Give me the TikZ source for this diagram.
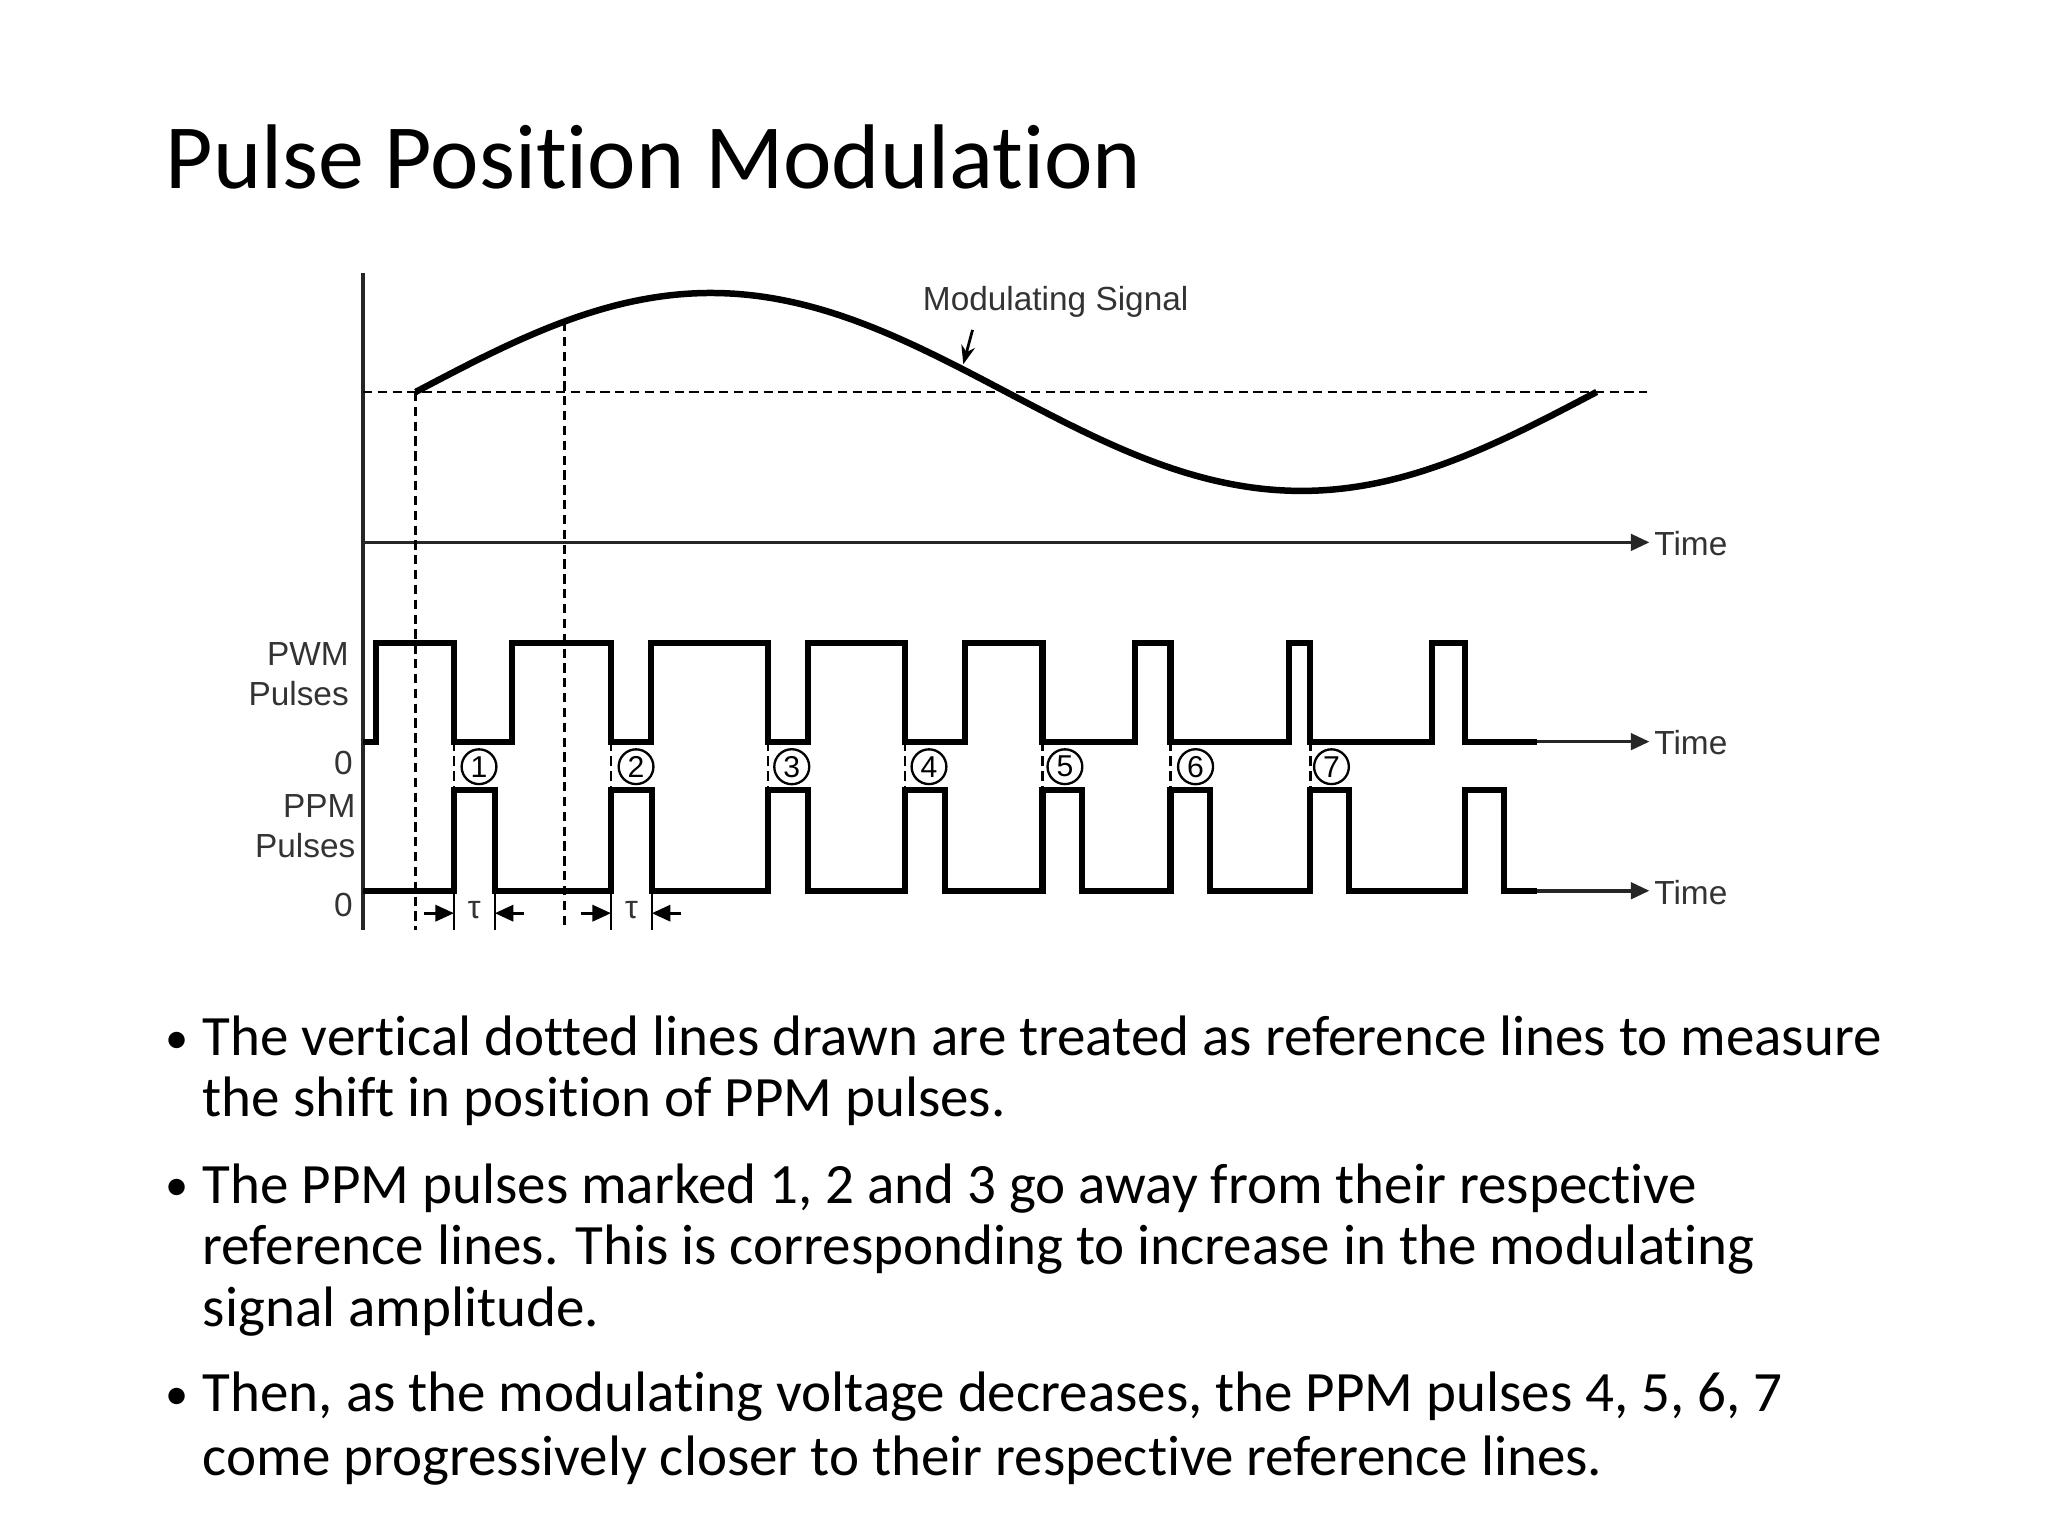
\documentclass[tikz,border=0pt]{standalone}
\usepackage{fontspec}
\setmainfont{Carlito}[Ligatures={NoCommon}]
\newfontfamily\diag{Liberation Sans}
\usetikzlibrary{arrows.meta}
\begin{document}
\begin{tikzpicture}[x=0.1mm,y=-0.1mm,
  sig/.style={line width=1.3pt,line join=miter},
  ax/.style={line width=0.8pt,black!85},
  refl/.style={line width=0.6pt,dash pattern=on 2pt off 1.2pt},
  lab/.style={font=\diag\fontsize{7.2}{8.6}\selectfont,text=black!80,inner sep=0pt},
  circ/.style={circle,draw,line width=0.5pt,inner sep=0.6pt,font=\diag\fontsize{6.5}{7}\selectfont,minimum size=7.5pt},
  tip/.style={-{Triangle[length=4pt,width=3.5pt]}},
  bul/.style={font=\fontsize{12.3}{14}\selectfont,anchor=base west,inner sep=0pt}]
\useasboundingbox (0,0) rectangle (1552,1164);
\node[anchor=base west,inner sep=0pt,font=\fontsize{19.8}{24}\selectfont] (title) at (125,143) {Pulse Position Modulation};
% axes
\coordinate (ytop) at (275,207); \coordinate (ybot) at (275,705);
\draw[ax] (ytop) -- (ybot);
\coordinate (t1s) at (275,411); \coordinate (t1e) at (1250,411);
\draw[ax,tip] (t1s) -- (t1e);
\node[lab,anchor=west] (time1) at (1253,412) {Time};
% modulating signal
\coordinate (h0) at (275,297); \coordinate (h1) at (1248,297);
\draw[refl,line width=0.5pt] (h0) -- (h1);
\draw[sig,line width=1.4pt] plot[domain=315:1210,samples=90,smooth] (\x,{297-75*sin((\x-315)/447.5*180)});
\node[lab] (msig) at (800,229) {Modulating Signal};
\coordinate (ma) at (737,250); \coordinate (mb) at (730,276);
\draw[line width=0.6pt,-{Stealth[length=4pt,width=3pt]}] (ma) -- (mb);
% reference lines
\coordinate (r1a) at (315,297); \coordinate (r1b) at (315,705);
\coordinate (r2a) at (428,244); \coordinate (r2b) at (428,705);
\draw[refl] (r1a) -- (r1b);
\draw[refl] (r2a) -- (r2b);
% PWM
\draw[sig] (275,562) -- (285,562) -- (285,487) -- (344,487) -- (344,562)
 -- (388,562) -- (388,487) -- (463,487) -- (463,562)
 -- (493,562) -- (493,487) -- (582,487) -- (582,562)
 -- (612,562) -- (612,487) -- (686,487) -- (686,562)
 -- (731,562) -- (731,487) -- (790,487) -- (790,562)
 -- (860,562) -- (860,487) -- (887,487) -- (887,562)
 -- (977,562) -- (977,487) -- (993,487) -- (993,562)
 -- (1085,562) -- (1085,487) -- (1110,487) -- (1110,562) -- (1165,562);
\coordinate (t2s) at (1165,562); \coordinate (t2e) at (1250,562);
\draw[ax,tip] (t2s) -- (t2e);
\node[lab,anchor=west] (time2) at (1253,563) {Time};
% PPM
\draw[sig] (275,675) -- (344,675) -- (344,599) -- (375,599) -- (375,675)
 -- (463,675) -- (463,599) -- (494,599) -- (494,675)
 -- (582,675) -- (582,599) -- (612,599) -- (612,675)
 -- (686,675) -- (686,599) -- (716,599) -- (716,675)
 -- (790,675) -- (790,599) -- (820,599) -- (820,675)
 -- (887,675) -- (887,599) -- (917,599) -- (917,675)
 -- (993,675) -- (993,599) -- (1022,599) -- (1022,675)
 -- (1110,675) -- (1110,599) -- (1140,599) -- (1140,675) -- (1165,675);
\coordinate (t3s) at (1165,675); \coordinate (t3e) at (1250,675);
\draw[ax,tip] (t3s) -- (t3e);
\node[lab,anchor=west] (time3) at (1253,676) {Time};
% numbered markers
\foreach \n/\xs/\xc in {1/344/363,2/463/482,3/582/600,4/686/704,5/790/807,6/887/906,7/993/1009}{
  \coordinate (da\n) at (\xs,562); \coordinate (db\n) at (\xs,599);
  \draw[refl,line width=0.5pt] (da\n) -- (db\n);
  \node[circ] (c\n) at (\xc,581) {\n};
}
% labels
\node[lab,align=right,anchor=east] (pwm) at (265,511) {PWM\\Pulses};
\node[lab,anchor=east] (z1) at (268,578) {0};
\node[lab,align=right,anchor=east] (ppm) at (270,626) {PPM\\Pulses};
\node[lab,anchor=east] (z2) at (268,686) {0};
% tau markers
\foreach \i/\a/\b in {1/344/375,2/463/494}{
  \coordinate (ta\i) at (\a,675); \coordinate (tb\i) at (\a,705);
  \coordinate (tc\i) at (\b,675); \coordinate (td\i) at (\b,705);
  \draw[line width=0.5pt] (ta\i) -- (tb\i);
  \draw[line width=0.5pt] (tc\i) -- (td\i);
  \coordinate (la\i) at (\a-23,692); \coordinate (lb\i) at (\a,692);
  \coordinate (lc\i) at (\b+22,692); \coordinate (ld\i) at (\b,692);
  \draw[line width=0.6pt,tip] (la\i) -- (lb\i);
  \draw[line width=0.6pt,tip] (lc\i) -- (ld\i);
  \node[lab,font=\diag\fontsize{7}{8}\selectfont] (tau\i) at ({(\a+\b)/2},690) {τ};
}
% bullets
\foreach \y in {800,912,1070}{\node[bul,font=\fontsize{10}{12}\selectfont] at (125,\y-2) {•};}
\node[bul] (b1a) at (153,800) {The vertical dotted lines drawn are treated as reference lines to measure};
\node[bul] (b1b) at (153,846) {the shift in position of PPM pulses.};
\node[bul] (b2a) at (153,912) {The PPM pulses marked 1, 2 and 3 go away from their respective};
\node[bul] (b2b) at (153,958) {reference lines. This is corresponding to increase in the modulating};
\node[bul] (b2c) at (153,1005) {signal amplitude.};
\node[bul] (b3a) at (153,1070) {Then, as the modulating voltage decreases, the PPM pulses 4, 5, 6, 7};
\node[bul] (b3b) at (153,1118) {come progressively closer to their respective reference lines.};
\end{tikzpicture}
\end{document}
